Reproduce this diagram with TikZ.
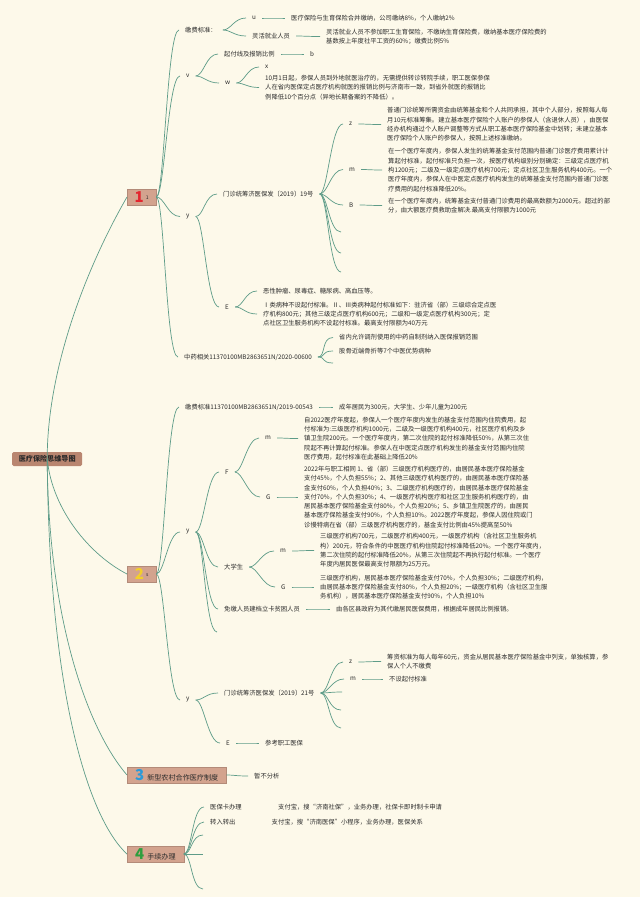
\documentclass[tikz,border=0pt]{standalone}
\usepackage{fontspec}
\setmainfont{Noto Sans CJK SC}
\usetikzlibrary{positioning}
\definecolor{paper}{HTML}{FDF9EA}
\definecolor{twiggreen}{HTML}{5E9C88}
\definecolor{rootfill}{HTML}{B98670}
\definecolor{catfill}{HTML}{D3A38E}
\definecolor{numred}{HTML}{E3262F}
\definecolor{numyellow}{HTML}{F3CF2A}
\definecolor{numblue}{HTML}{2C9AD8}
\definecolor{numgreen}{HTML}{2E9E3E}
\definecolor{ink}{HTML}{2B2B2B}
\newcommand\fsz{\fontsize{6.3}{9.3}\selectfont}
\newcommand\bignum[2]{{\fontsize{15}{15}\selectfont\bfseries\color{#1}#2}}
\tikzset{
  lbl/.style={anchor=west,inner sep=0pt,font=\fsz,text=ink},
  para/.style={lbl,align=left},
  rootbox/.style={anchor=west,fill=rootfill,rounded corners=1.5pt,inner sep=0pt,
    minimum height=14pt,minimum width=70pt,font=\fontsize{7.1}{8}\selectfont\bfseries,text=ink},
  catbox/.style={anchor=west,fill=catfill,draw=catfill!85!black,line width=0.3pt,
    inner xsep=8pt,inner ysep=0pt,minimum height=16pt,font=\fontsize{7.1}{8}\selectfont,text=ink},
  twig/.style={draw=twiggreen,line width=0.7pt,out=0,in=180,out distance=8pt,in distance=12pt},
}

\begin{document}
\begin{tikzpicture}[x=1pt,y=-1pt]
  \useasboundingbox[fill=paper] (0,0) rectangle (640,897);
  % root and main topics
  \node[rootbox] (root) at (12,459) {医疗保险思维导图};
  \node[catbox,inner xsep=0pt,minimum width=29pt] (c1) at (127,197) {\bignum{numred}{1}\hspace{2pt}\raisebox{3pt}{\fontsize{5}{5}\selectfont 1}};
  \node[catbox,inner xsep=0pt,minimum width=29pt] (c2) at (127,574) {\bignum{numyellow}{2}\hspace{2pt}\raisebox{3pt}{\fontsize{5}{5}\selectfont s}};
  \node[catbox] (c3) at (127,775) {\bignum{numblue}{3}\hspace{3pt}新型农村合作医疗制度};
  \node[catbox] (c4) at (127,854) {\bignum{numgreen}{4}\hspace{3pt}手续办理};

  % topic 1
  \node[lbl] (c1a) at (185,30) {缴费标准：};
  \node[lbl] (c1a1) at (252,18) {u};
  \node[lbl] (c1a1t) at (291,18) {医疗保险与生育保险合并缴纳，公司缴纳8\%，个人缴纳2\%};
  \node[lbl] (c1a2) at (252,36) {灵活就业人员};
  \node[para] (c1a2t) at (326,36.5) {灵活就业人员不参加职工生育保险，不缴纳生育保险费，缴纳基本医疗保险费的\\基数按上年度社平工资的60\%；缴费比例5\%};
  \node[lbl] (c1b) at (186,76) {v};
  \node[lbl] (c1b1) at (224,54) {起付线及报销比例};
  \node[lbl] (c1b1t) at (310,54) {b};
  \node[lbl] (c1b2) at (225,83) {w};
  \node[lbl] (c1b2a) at (265,67) {x};
  \node[para] (c1b2b) at (265,87.5) {10月1日起，参保人员到外地就医治疗的，无需提供转诊转院手续，职工医保参保\\人在省内医保定点医疗机构就医的报销比例与济南市一致，到省外就医的报销比\\例降低10个百分点（异地长期备案的不降低）。};
  \node[lbl] (c1c) at (186,216.5) {y};
  \node[lbl] (c1c1) at (223,194) {门诊统筹济医保发〔2019〕19号};
  \node[lbl] (c1c1a) at (349,124) {z};
  \node[para] (c1c1at) at (387,124.5) {普通门诊统筹所需资金由统筹基金和个人共同承担，其中个人部分，按照每人每\\月10元标准筹集。建立基本医疗保险个人账户的参保人（含退休人员），由医保\\经办机构通过个人账户调整等方式从职工基本医疗保险基金中划转；未建立基本\\医疗保险个人账户的参保人，按照上述标准缴纳。};
  \node[lbl] (c1c1b) at (349,169.5) {m};
  \node[para] (c1c1bt) at (388,170) {在一个医疗年度内，参保人发生的统筹基金支付范围内普通门诊医疗费用累计计\\算起付标准，起付标准只负担一次，按医疗机构级别分别确定：三级定点医疗机\\构1200元；二级及一级定点医疗机构700元；定点社区卫生服务机构400元。一个\\医疗年度内，参保人在中医定点医疗机构发生的统筹基金支付范围内普通门诊医\\疗费用的起付标准降低20\%。};
  \node[lbl] (c1c1c) at (349,205) {B};
  \node[para] (c1c1ct) at (388,205.5) {在一个医疗年度内，统筹基金支付普通门诊费用的最高数额为2000元。超过的部\\分，由大额医疗费救助金解决.最高支付限额为1000元};
  \coordinate (e1) at (341,232);
  \coordinate (e2) at (341,253);
  \coordinate (e3) at (341,272);
  \node[lbl] (c1c2) at (225,307) {E};
  \node[lbl] (c1c2a) at (263,291) {恶性肿瘤、尿毒症、糖尿病、高血压等。};
  \node[para] (c1c2b) at (263,314) {Ⅰ类病种不设起付标准。Ⅱ、Ⅲ类病种起付标准如下：驻济省（部）三级综合定点医\\疗机构800元；其他三级定点医疗机构600元；二级和一级定点医疗机构300元；定\\点社区卫生服务机构不设起付标准。最高支付限额为40万元};
  \node[lbl] (c1d) at (184,357) {中药相关11370100MB2863651N/2020-00600};
  \node[lbl] (c1d1) at (339,337.5) {省内允许调剂使用的中药自制剂纳入医保报销范围};
  \node[lbl] (c1d2) at (339,351) {股骨近端骨折等7个中医优势病种};
  \coordinate (e4) at (333,363);

  % topic 2
  \node[lbl] (c2a) at (185,407) {缴费标准11370100MB2863651N/2019-00543};
  \node[lbl] (c2a1) at (339,407) {成年居民为300元，大学生、少年儿童为200元};
  \node[lbl] (c2b) at (186,532) {y};
  \node[lbl] (c2b1) at (225,472) {F};
  \node[lbl] (c2b1a) at (265,438) {m};
  \node[para] (c2b1at) at (304,438.5) {自2022医疗年度起，参保人一个医疗年度内发生的基金支付范围内住院费用，起\\付标准为:三级医疗机构1000元，二级及一级医疗机构400元，社区医疗机构及乡\\镇卫生院200元。一个医疗年度内，第二次住院的起付标准降低50\%，从第三次住\\院起不再计算起付标准。参保人在中医定点医疗机构发生的基金支付范围内住院\\医疗费用，起付标准在此基础上降低20\%};
  \node[lbl] (c2b1b) at (266,497) {G};
  \node[para] (c2b1bt) at (304,497) {2022年与职工相同 1、省（部）三级医疗机构医疗的，由居民基本医疗保险基金\\支付45\%，个人负担55\%；2、其他三级医疗机构医疗的，由居民基本医疗保险基\\金支付60\%，个人负担40\%；3、二级医疗机构医疗的，由居民基本医疗保险基金\\支付70\%，个人负担30\%；4、一级医疗机构医疗和社区卫生服务机构医疗的，由\\居民基本医疗保险基金支付80\%，个人负担20\%；5、乡镇卫生院医疗的，由居民\\基本医疗保险基金支付90\%，个人负担10\%。2022医疗年度起，参保人因住院或门\\诊慢特病在省（部）三级医疗机构医疗的，基金支付比例由45\%提高至50\%};
  \node[lbl] (c2b2) at (224,567) {大学生};
  \node[lbl] (c2b2a) at (280,551) {m};
  \node[para] (c2b2at) at (320,550.5) {三级医疗机构700元，二级医疗机构400元，一级医疗机构（含社区卫生服务机\\构）200元，符合条件的中医医疗机构住院起付标准降低20\%。一个医疗年度内，\\第二次住院的起付标准降低20\%，从第三次住院起不再执行起付标准。一个医疗\\年度内居民医保最高支付限额为25万元。};
  \node[lbl] (c2b2b) at (281,587) {G};
  \node[para] (c2b2bt) at (320,587) {三级医疗机构，居民基本医疗保险基金支付70\%，个人负担30\%；二级医疗机构，\\由居民基本医疗保险基金支付80\%，个人负担20\%；一级医疗机构（含社区卫生服\\务机构），居民基本医疗保险基金支付90\%，个人负担10\%};
  \node[lbl] (c2b3) at (224,609) {免缴人员建档立卡贫困人员};
  \node[lbl] (c2b3t) at (336,609) {由各区县政府为其代缴居民医保费用，根据成年居民比例报销。};
  \coordinate (e5) at (217,632);
  \node[lbl] (c2c) at (186,700) {y};
  \node[lbl] (c2c1) at (224,693) {门诊统筹济医保发〔2019〕21号};
  \node[lbl] (c2c1a) at (349,662) {z};
  \node[para] (c2c1at) at (387,661.5) {筹资标准为每人每年60元，资金从居民基本医疗保险基金中列支，单独核算，参\\保人个人不缴费};
  \node[lbl] (c2c1b) at (350,679) {m};
  \node[lbl] (c2c1bt) at (389,679) {不设起付标准};
  \coordinate (e6) at (342,692);
  \coordinate (e7) at (341,710);
  \coordinate (e8) at (341,728);
  \node[lbl] (c2c2) at (226,743) {E};
  \node[lbl] (c2c2t) at (265,743) {参考职工医保};

  % topic 3 and 4
  \node[lbl] (c3t) at (254,776) {暂不分析};
  \node[lbl] (c4a) at (210,807) {医保卡办理};
  \node[lbl] (c4at) at (278,807) {支付宝，搜“济南社保”，业务办理，社保卡即时制卡申请};
  \node[lbl] (c4b) at (210,822) {转入转出};
  \node[lbl] (c4bt) at (271.5,822) {支付宝，搜“济南医保”小程序，业务办理，医保关系};
  \coordinate (e9) at (203,835);
  \coordinate (e10) at (203,854);
  \coordinate (e11) at (203,889);

  % connectors
  \draw[twig] (root.center) .. controls +(0,-89) and +(-42,73) .. (c1.west);
  \draw[twig] (root.center) .. controls +(5,51) and +(-37,-19) .. (c2.west);
  \draw[twig] (root.center) .. controls +(1,161) and +(-39,-45) .. (c3.west);
  \draw[twig] (root.center) .. controls +(2,241) and +(-37,-34) .. (c4.west);
  \foreach \a/\b in {c1/c1a,c1/c1b,c1/c1c,c1/c1d,c2/c2a,c2/c2b,c2/c2c,c3/c3t,c4/c4a,c4/c4b}
    \draw[twig] (\a.east) to ([xshift=-6pt]\b.west);
  \foreach \a/\b in {c4/e9,c4/e10,c4/e11}
    \draw[twig] (\a.east) to (\b);
  \foreach \a/\b in {c1a/c1a1,c1a/c1a2,c1a1/c1a1t,c1a2/c1a2t,c1b/c1b1,c1b/c1b2,c1b1/c1b1t,
      c1b2/c1b2a,c1b2/c1b2b,c1c/c1c1,c1c/c1c2,c1c1/c1c1a,c1c1/c1c1b,c1c1/c1c1c,
      c1c1a/c1c1at,c1c1b/c1c1bt,c1c1c/c1c1ct,c1c2/c1c2a,c1c2/c1c2b,c1d/c1d1,c1d/c1d2,
      c2a/c2a1,c2b/c2b1,c2b/c2b2,c2b/c2b3,c2b1/c2b1a,c2b1/c2b1b,c2b1a/c2b1at,c2b1b/c2b1bt,
      c2b2/c2b2a,c2b2/c2b2b,c2b2a/c2b2at,c2b2b/c2b2bt,c2b3/c2b3t,c2c/c2c1,c2c/c2c2,
      c2c1/c2c1a,c2c1/c2c1b,c2c1a/c2c1at,c2c1b/c2c1bt,c2c2/c2c2t}
    \draw[twig] ([xshift=6pt]\a.east) to ([xshift=-6pt]\b.west);
  \foreach \a/\b in {c1c1/e1,c1c1/e2,c1c1/e3,c1d/e4,c2b/e5,c2c1/e6,c2c1/e7,c2c1/e8}
    \draw[twig] ([xshift=6pt]\a.east) to (\b);
\end{tikzpicture}
\end{document}
